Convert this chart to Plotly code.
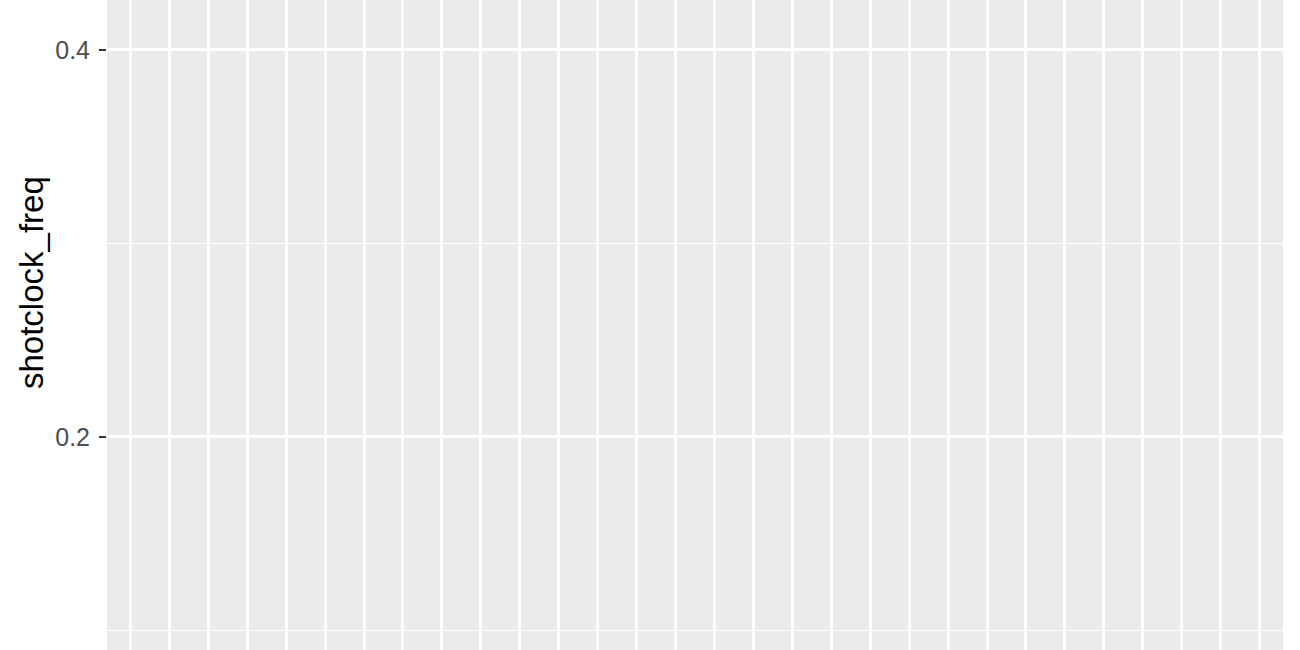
import plotly.graph_objects as go

# shot clock categories (discrete x axis, 30 levels)
shot_clock = [1, 2, 3, 4, 5, 6, 7, 8, 9, 10,
              11, 12, 13, 14, 15, 16, 17, 18, 19, 20,
              21, 22, 23, 24, 25, 26, 27, 28, 29, 30]
# no marks fall inside the visible window
shotclock_freq = [None] * len(shot_clock)

y_ticks = [0.2, 0.4]
y_minor = [0.1, 0.3]

W, H = 1300, 650
L, R = 107, 17

fig = go.Figure()
fig.add_trace(go.Scatter(x=shot_clock, y=shotclock_freq, mode="markers",
                         showlegend=False, hoverinfo="skip"))

fig.update_layout(
    width=W, height=H,
    paper_bgcolor="white",
    plot_bgcolor="#EBEBEB",
    margin=dict(l=L, r=R, t=0, b=0, pad=0),
    font=dict(family="Liberation Sans, Arial, sans-serif"),
    showlegend=False,
)

fig.update_xaxes(
    range=[0.4, 30.6],
    tickmode="array", tickvals=shot_clock,
    showticklabels=False, ticks="",
    showgrid=True, gridcolor="white", gridwidth=2.5,
    zeroline=False, showline=False,
)

fig.update_yaxes(
    range=[0.0899, 0.4258],
    tickmode="array", tickvals=y_ticks, ticktext=["0.2", "0.4"],
    ticks="outside", ticklen=7, tickwidth=2, tickcolor="#333333",
    ticklabelstandoff=4,
    tickfont=dict(size=25, color="#4D4D4D"),
    showgrid=True, gridcolor="white", gridwidth=2.5,
    minor=dict(tickvals=y_minor, showgrid=True, gridcolor="white",
               gridwidth=1.3, ticks=""),
    zeroline=False, showline=False,
)

# y title placed where ggplot centres it on the full (cropped) panel
plot_w = W - L - R
fig.add_annotation(
    text="shotclock_freq", textangle=-90,
    xref="paper", yref="paper",
    x=(31 - L) / plot_w, y=1 - 283 / H,
    xanchor="center", yanchor="middle", showarrow=False,
    font=dict(size=33, color="black"),
)

fig.write_html("out.html", config={"displayModeBar": False},
               post_script="document.body.style.margin='0';")
